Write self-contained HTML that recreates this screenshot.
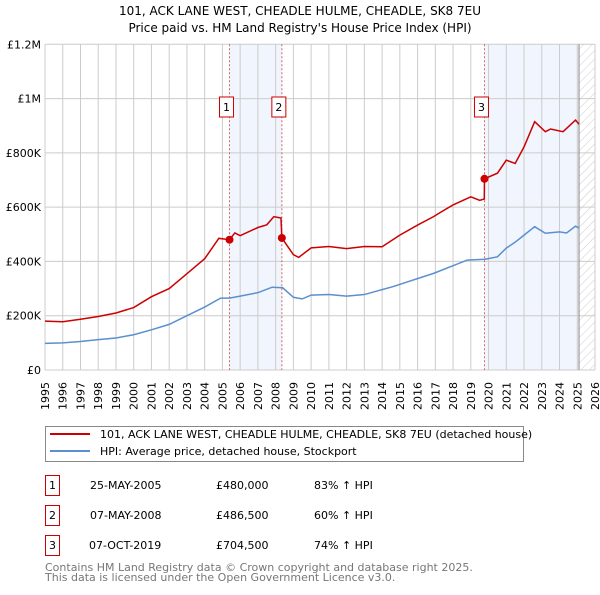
<!DOCTYPE html>
<html><head><meta charset="utf-8"><style>
body{margin:0;background:#fff;font-family:"Liberation Sans","DejaVu Sans",sans-serif;}
svg text{font-family:"DejaVu Sans","Liberation Sans",sans-serif;}
</style></head><body>
<svg width="600" height="590" viewBox="0 0 600 590" xmlns="http://www.w3.org/2000/svg">
<defs><pattern id="hatch" width="6" height="6" patternUnits="userSpaceOnUse" patternTransform="rotate(45)"><line x1="0" y1="0" x2="0" y2="6" stroke="#ccc" stroke-width="1"/></pattern></defs>
<text x="300" y="15" text-anchor="middle" font-size="12" fill="#000">101, ACK LANE WEST, CHEADLE HULME, CHEADLE, SK8 7EU</text>
<text x="300" y="32" text-anchor="middle" font-size="12" fill="#000">Price paid vs. HM Land Registry's House Price Index (HPI)</text>
<g id="plot"></g>
<g>
<rect x="45.5" y="426.5" width="478" height="35" fill="#fff" stroke="#888"/>
<line x1="50" y1="434" x2="90" y2="434" stroke="#cc0000" stroke-width="2"/>
<text x="100" y="438" font-size="11">101, ACK LANE WEST, CHEADLE HULME, CHEADLE, SK8 7EU (detached house)</text>
<line x1="50" y1="451" x2="90" y2="451" stroke="#5b8fd0" stroke-width="2"/>
<text x="100" y="455" font-size="11">HPI: Average price, detached house, Stockport</text>
</g>
<g font-size="11">
<rect x="45.5" y="475.5" width="14" height="20" fill="none" stroke="#cc0000"/><text x="52.5" y="489" text-anchor="middle">1</text>
<text x="90" y="489">25-MAY-2005</text><text x="216" y="489">£480,000</text><text x="314" y="489">83% ↑ HPI</text>
<rect x="45.5" y="505.5" width="14" height="20" fill="none" stroke="#cc0000"/><text x="52.5" y="519" text-anchor="middle">2</text>
<text x="90" y="519">07-MAY-2008</text><text x="216" y="519">£486,500</text><text x="314" y="519">60% ↑ HPI</text>
<rect x="45.5" y="535.5" width="14" height="20" fill="none" stroke="#cc0000"/><text x="52.5" y="549" text-anchor="middle">3</text>
<text x="89" y="549">07-OCT-2019</text><text x="216" y="549">£704,500</text><text x="314" y="549">74% ↑ HPI</text>
</g>
<text x="45" y="571" font-size="11" fill="#777">Contains HM Land Registry data © Crown copyright and database right 2025.</text>
<text x="45" y="581" font-size="11" fill="#777">This data is licensed under the Open Government Licence v3.0.</text>
</svg>
<script>
const hpiYears=[1995,1996,1997,1998,1999,2000,2001,2002,2003,2004,2004.9,2005.4,2006,2007,2007.8,2008.4,2009,2009.5,2010,2011,2012,2013,2014.6,2016.9,2018.8,2019.8,2020.5,2021,2021.5,2022,2022.6,2023.2,2024,2024.4,2024.9,2025.1];
const hpiValues=[98000,100000,105000,112000,118000,130000,148000,168000,200000,232000,265000,265000,272000,285000,305000,303000,268000,262000,276000,278000,272000,278000,307000,356000,405000,408000,417000,449000,471000,497000,528000,504000,509000,505000,530000,523000];
const priceYears=[1995,1996,1997,1998,1999,2000,2001,2002,2003,2004,2004.8,2005.4,2005.7,2006,2007,2007.5,2007.9,2008.3,2008.35,2009,2009.3,2010,2011,2012,2013,2014,2015,2016,2016.9,2017.5,2018,2019,2019.5,2019.76,2019.77,2020.5,2021,2021.5,2022,2022.6,2023.2,2023.5,2024.2,2024.9,2025.1];
const priceValues=[180000,178000,187000,197000,210000,230000,270000,300000,355000,410000,485000,480000,505000,495000,525000,535000,565000,560000,486500,425000,415000,450000,455000,447000,455000,454000,497000,534000,565000,589000,608000,638000,625000,630000,704500,725000,773000,761000,822000,915000,878000,888000,878000,921000,906000];
const saleYears=[2005.4,2008.35,2019.77];
const salePrices=[480000,486500,704500];
const saleLabels=['1','2','3'];
const yTicks=[0,200000,400000,600000,800000,1000000,1200000];
const yTickLabels=['£0','£200K','£400K','£600K','£800K','£1M','£1.2M'];
const xTicks=[1995,1996,1997,1998,1999,2000,2001,2002,2003,2004,2005,2006,2007,2008,2009,2010,2011,2012,2013,2014,2015,2016,2017,2018,2019,2020,2021,2022,2023,2024,2025,2026];
const dataEnd=2025.1;
const L=45,R=595,T=44.3,B=370;
const xs=y=>L+(y-1995)/(2026-1995)*(R-L);
const ys=v=>B-v/1200000*(B-T);
const NS='http://www.w3.org/2000/svg';
const g=document.getElementById('plot');
function mk(t,a){const e=document.createElementNS(NS,t);for(const k in a)e.setAttribute(k,a[k]);g.appendChild(e);return e;}
let e;
e=mk('rect',{x:xs(saleYears[0]),y:T,width:xs(saleYears[1])-xs(saleYears[0]),height:B-T,fill:'#eef3fc',opacity:0.8});


e=mk('rect',{x:xs(saleYears[2]),y:T,width:xs(dataEnd)-xs(saleYears[2]),height:B-T,fill:'#eef3fc',opacity:0.8});


e=mk('rect',{x:xs(dataEnd),y:T,width:R-xs(dataEnd),height:B-T,fill:'url(#hatch)'});


xTicks.forEach(y=>{e=mk('line',{x1:xs(y),x2:xs(y),y1:T,y2:B,stroke:'#ccc','stroke-width':1});


const tx=xs(y)+4,ty=382;
e=mk('text',{x:tx,y:ty,'text-anchor':'end','font-size':11,fill:'#000',transform:'rotate(-90 '+tx+' '+ty+')'});e.textContent=y;

});
yTicks.forEach((v,i)=>{e=mk('line',{x1:L,x2:R,y1:ys(v),y2:ys(v),stroke:'#ccc','stroke-width':1});


e=mk('text',{x:L-4,y:ys(v)+4,'text-anchor':'end','font-size':11,fill:'#000'});e.textContent=yTickLabels[i];

});
e=mk('line',{x1:xs(dataEnd),x2:xs(dataEnd),y1:T,y2:B,stroke:'#888','stroke-width':1});


saleYears.forEach((y,i)=>{e=mk('line',{x1:xs(y),x2:xs(y),y1:T,y2:B,stroke:'#e06060','stroke-width':1,'stroke-dasharray':'2,2'});


e=mk('rect',{x:xs(y)-10,y:97,width:14,height:20,fill:'#fff',stroke:'#cc0000'});


e=mk('text',{x:xs(y)-3,y:111,'text-anchor':'middle','font-size':11});e.textContent=saleLabels[i];

});
e=mk('polyline',{points:hpiYears.map((y,i)=>xs(y)+','+ys(hpiValues[i])).join(' '),fill:'none',stroke:'#5b8fd0','stroke-width':1.5});


e=mk('polyline',{points:priceYears.map((y,i)=>xs(y)+','+ys(priceValues[i])).join(' '),fill:'none',stroke:'#cc0000','stroke-width':1.5});


saleYears.forEach((y,i)=>{e=mk('circle',{cx:xs(y),cy:ys(salePrices[i]),r:4,fill:'#cc0000'});

});
</script>
</body></html>
